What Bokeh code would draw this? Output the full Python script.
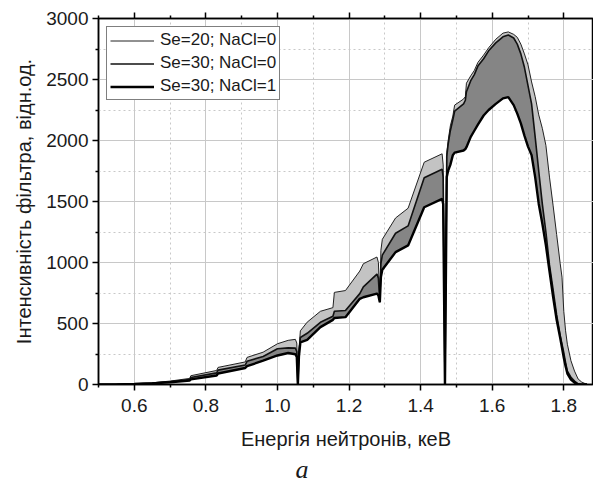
from bokeh.plotting import figure
from bokeh.models import FixedTicker, PrintfTickFormatter, LinearAxis, Range1d, Title
from bokeh.embed import file_html
from bokeh.resources import INLINE

energy = [0.50, 0.55, 0.60, 0.65, 0.70, 0.755, 0.758, 0.83, 0.834, 0.91, 0.915, 0.96, 1.00, 1.03, 1.05, 1.054, 1.057, 1.060, 1.064,
          1.083, 1.12, 1.155, 1.159, 1.19, 1.23, 1.24, 1.278, 1.282, 1.286, 1.289, 1.293,
          1.33, 1.365, 1.41, 1.46, 1.463, 1.468, 1.473, 1.477, 1.483, 1.49, 1.495, 1.52, 1.525, 1.528, 1.54, 1.55, 1.56,
          1.576, 1.59, 1.61, 1.63, 1.645,
          1.66, 1.67, 1.68, 1.69, 1.70, 1.71, 1.72, 1.73, 1.74, 1.75, 1.76, 1.77, 1.78, 1.79, 1.795, 1.80, 1.805, 1.81,
          1.82, 1.83, 1.84, 1.85, 1.865]

se20_nacl0 = [0, 2, 6, 14, 28, 50, 72, 115, 140, 185, 222, 265, 334, 362, 370, 340, 0, 280, 440,
              511, 600, 630, 755, 770, 930, 990, 1045, 1000, 675, 1100, 1190,
              1365, 1445, 1822, 1891, 1800, 0, 1900, 2000, 2120, 2200, 2290, 2340, 2360, 2470, 2530, 2574, 2640,
              2700, 2760, 2830, 2880, 2890,
              2870, 2846, 2790, 2710, 2620, 2480, 2360, 2210, 2100, 1960, 1700, 1470, 1230, 990, 880, 600, 440, 330,
              195, 110, 45, 20, 0]

se30_nacl0 = [0, 2, 5, 11, 22, 40, 58, 95, 118, 160, 190, 230, 293, 300, 298, 270, 0, 250, 385,
              420, 510, 560, 600, 607, 745, 800, 905, 870, 675, 990, 1060,
              1240, 1300, 1695, 1765, 1700, 0, 1870, 1970, 2080, 2170, 2240, 2300, 2330, 2400, 2490, 2540, 2610,
              2670, 2735, 2800, 2850, 2865,
              2840, 2790, 2710, 2600, 2450, 2300, 2030, 1750, 1480, 1250, 980, 780, 570, 400, 330, 260, 180, 110,
              60, 28, 5, 0, 0]

se30_nacl1 = [0, 1, 4, 9, 18, 33, 42, 74, 90, 135, 150, 195, 238, 258, 248, 225, 0, 230, 345,
              365, 470, 530, 545, 552, 702, 715, 745, 730, 675, 880, 940,
              1085, 1140, 1453, 1522, 1480, 0, 1700, 1754, 1800, 1880, 1900, 1918, 1930, 1945, 2030, 2080, 2130,
              2205, 2250, 2300, 2345, 2355,
              2290, 2220, 2140, 2040, 1950, 1880, 1700, 1480, 1320, 1140, 930, 720, 530, 380, 300, 220, 150, 90,
              40, 15, 0, 0, 0]

x_major = [0.6, 0.8, 1.0, 1.2, 1.4, 1.6, 1.8]
x_minor = [0.5, 0.7, 0.9, 1.1, 1.3, 1.5, 1.7]
y_major = [0, 500, 1000, 1500, 2000, 2500, 3000]
y_minor = [250, 750, 1250, 1750, 2250, 2750]

labels = ["Se=20; NaCl=0", "Se=30; NaCl=0", "Se=30; NaCl=1"]
panel_letter = "а"

FONT = "Liberation Sans"

p = figure(width=593, height=483, output_backend="svg", toolbar_location=None,
           x_range=Range1d(0.5, 1.883), y_range=Range1d(0, 3000),
           min_border_left=98, min_border_right=0, min_border_top=18, min_border_bottom=99,
           background_fill_color="white", border_fill_color="white")

xt = FixedTicker(ticks=x_major, minor_ticks=x_minor)
yt = FixedTicker(ticks=y_major, minor_ticks=y_minor)

for g, t in ((p.xgrid, xt), (p.ygrid, yt)):
    g.ticker = t
    g.grid_line_color = "#c8c8c8"
    g.grid_line_width = 1
    g.minor_grid_line_color = "#c8c8c8"
    g.minor_grid_line_dash = "2 3"
    g.minor_grid_line_width = 1

p.xaxis.ticker = xt
p.yaxis.ticker = yt
p.xaxis.formatter = PrintfTickFormatter(format="%.1f")

for ax in (p.xaxis[0], p.yaxis[0]):
    ax.axis_line_width = 1.5
    ax.axis_line_color = "black"
    ax.major_tick_line_width = 1.5
    ax.minor_tick_line_width = 1.5
    ax.major_tick_in = 0
    ax.major_tick_out = 6
    ax.minor_tick_in = 0
    ax.minor_tick_out = 3
    ax.major_label_text_font = FONT
    ax.major_label_text_font_size = "19px"
    ax.major_label_text_color = "#1a1a1a"
    ax.axis_label_text_font = FONT
    ax.axis_label_text_font_size = "20px"
    ax.axis_label_text_font_style = "normal"
    ax.axis_label_text_color = "#1a1a1a"

p.xaxis.major_label_standoff = 8
p.yaxis.major_label_standoff = 4
p.xaxis.axis_label = "Енергія нейтронів, кеВ"
p.yaxis.axis_label = "Інтенсивність фільтра, відн.од."
p.xaxis.axis_label_standoff = 13
p.yaxis.axis_label_standoff = 8

top_ax = LinearAxis(ticker=xt, major_label_overrides={t: "" for t in x_major},
                    major_label_standoff=0, major_label_text_font_size="1px",
                    major_tick_in=0, major_tick_out=6, minor_tick_in=0, minor_tick_out=3,
                    major_tick_line_width=1.5, minor_tick_line_width=1.5,
                    axis_line_width=1.5, axis_line_color="black")
p.add_layout(top_ax, "above")

p.outline_line_color = "black"
p.outline_line_width = 1.5
p.outline_line_alpha = 1

p.varea(x=energy, y1=se30_nacl0, y2=se20_nacl0, fill_color="#c3c3c3")
p.varea(x=energy, y1=se30_nacl1, y2=se30_nacl0, fill_color="#858585")

p.line(energy, se20_nacl0, line_color="#222222", line_width=1, legend_label=labels[0])
p.line(energy, se30_nacl0, line_color="#111111", line_width=1.6, legend_label=labels[1])
p.line(energy, se30_nacl1, line_color="black", line_width=2.4, legend_label=labels[2])

lg = p.legend[0]
lg.location = "top_left"
lg.margin = 8
lg.padding = 3
lg.spacing = 3
lg.glyph_width = 44
lg.glyph_height = 19
lg.label_height = 19
lg.label_standoff = 6
lg.label_text_font = FONT
lg.label_text_font_size = "17px"
lg.label_text_color = "#1a1a1a"
lg.border_line_color = "black"
lg.border_line_width = 1
lg.background_fill_alpha = 1

p.add_layout(Title(text=panel_letter, text_font="Liberation Serif", text_font_style="italic",
                   text_font_size="26px", text_color="#1a1a1a", align="left", offset=197,
                   standoff=0, text_line_height=0.8), "below")

open("out.html", "w").write(file_html(p, INLINE))
